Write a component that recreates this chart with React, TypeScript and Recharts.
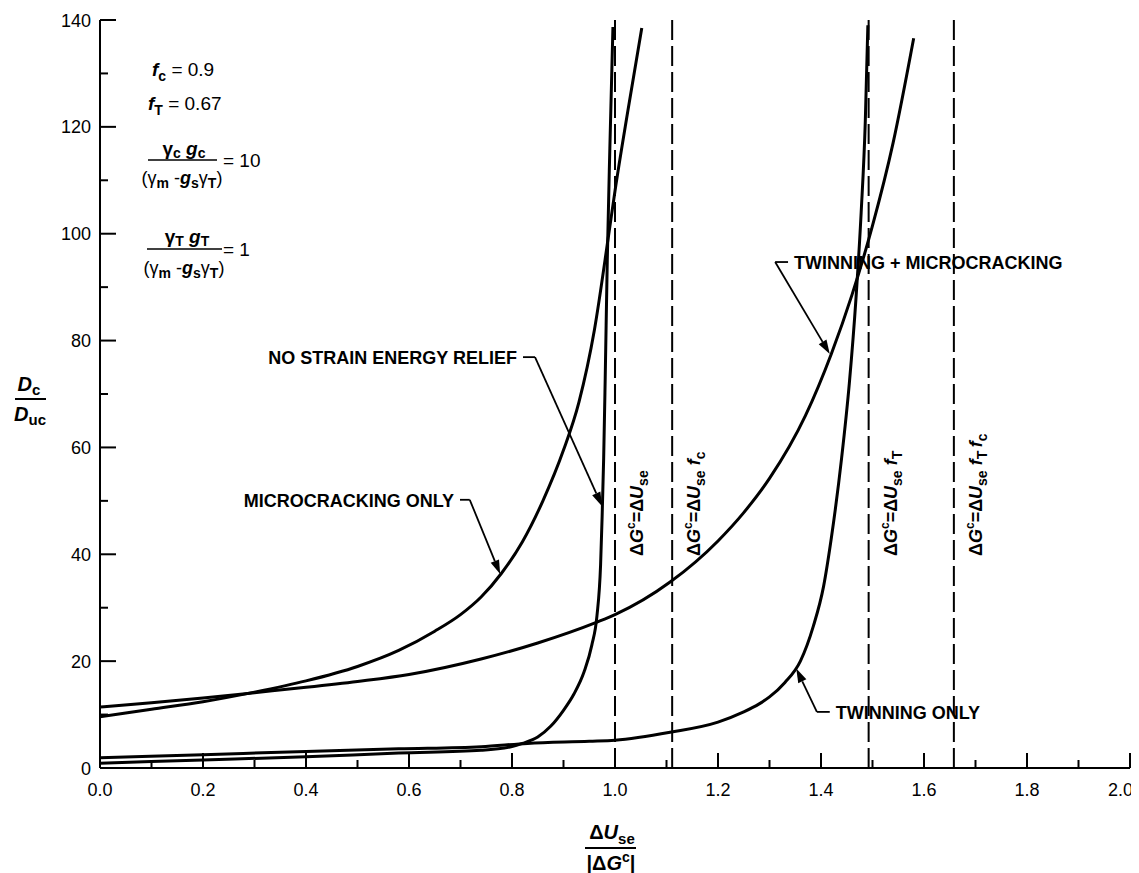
import React from "react";
import { ComposedChart, Line, XAxis, YAxis, ReferenceLine } from "recharts";

const FONT = "'Liberation Sans', Arial, Helvetica, sans-serif";

// ---- series data (x = ΔUse/|ΔGc|, y = Dc/Duc) ----
const microOnlyX = [0, 0.1, 0.2, 0.3, 0.4, 0.5, 0.58, 0.65, 0.7, 0.74, 0.78, 0.82, 0.86, 0.9, 0.93, 0.96, 0.988, 1.0, 1.025, 1.052];
const microOnlyY = [9.6, 11, 12.4, 14.2, 16.3, 19, 22, 25.6, 28.7, 32, 36.5, 42.3, 50, 59.5, 68.5, 82, 100, 108, 123, 138.5];

const twinMicroX = [0, 0.1, 0.2, 0.3, 0.4, 0.5, 0.6, 0.74, 0.85, 0.965, 1.0, 1.107, 1.2, 1.25, 1.3, 1.37, 1.42, 1.46, 1.5, 1.54, 1.58];
const twinMicroY = [11.4, 12.2, 13.1, 14.1, 15.1, 16.2, 17.5, 20.4, 23.4, 27.3, 28.7, 34.8, 42.5, 47.8, 54.2, 66, 77.5, 88.5, 101.5, 117, 136.6];

const twinOnlyX = [0, 0.2, 0.4, 0.58, 0.74, 0.83, 0.95, 1.0, 1.107, 1.2, 1.25, 1.28, 1.3, 1.33, 1.36, 1.385, 1.405, 1.42, 1.44, 1.455, 1.468, 1.478, 1.486, 1.491];
const twinOnlyY = [1.9, 2.5, 3.1, 3.6, 4.0, 4.6, 5.0, 5.2, 6.7, 8.6, 10.5, 12, 13.3, 16, 20, 26.5, 34, 43, 58, 72, 88, 104, 121, 139];

const noReliefX = [0, 0.2, 0.4, 0.58, 0.74, 0.8, 0.82, 0.85, 0.875, 0.9, 0.92, 0.94, 0.955, 0.965, 0.972, 0.975, 0.978, 0.981, 0.985, 0.99, 0.996];
const noReliefY = [0.9, 1.5, 2.1, 2.8, 3.3, 4.0, 4.6, 5.8, 7.8, 10.8, 13.8, 18, 23, 28.5, 38, 47, 58, 73, 95, 116, 138.7];

// ---- axes ----
const xTickValues = [0, 0.1, 0.2, 0.3, 0.4, 0.5, 0.6, 0.7, 0.8, 0.9, 1.0, 1.1, 1.2, 1.3, 1.4, 1.5, 1.6, 1.7, 1.8, 1.9, 2.0];
const xTickLabels = ["0.0", "", "0.2", "", "0.4", "", "0.6", "", "0.8", "", "1.0", "", "1.2", "", "1.4", "", "1.6", "", "1.8", "", "2.0"];
const yTickValues = [0, 10, 20, 30, 40, 50, 60, 70, 80, 90, 100, 110, 120, 130, 140];
const yTickLabels = ["0", "", "20", "", "40", "", "60", "", "80", "", "100", "", "120", "", "140"];

// ---- threshold lines ----
const thresholdX = [1.0, 1.111, 1.4925, 1.658];
const thresholdSubs = [[], ["c"], ["T"], ["T", "c"]];

// ---- leader annotations ----
const leaderTexts = ["NO STRAIN ENERGY RELIEF", "MICROCRACKING ONLY", "TWINNING + MICROCRACKING", "TWINNING ONLY"];
const leaderAnchor = ["end", "end", "start", "start"];
const leaderY = [76.9, 50.2, 94.7, 10.5];
const leaderStartX = [0.8214, 0.699, 1.336, 1.417];
const leaderBendX = [0.8447, 0.718, 1.311, 1.392];
const leaderTipX = [0.9748, 0.777, 1.417, 1.352];
const leaderTipY = [49, 36.3, 77.5, 18.6];

const toPts = (xs: number[], ys: number[]) => xs.map((x, i) => ({ x, y: ys[i] }));
const microOnly = toPts(microOnlyX, microOnlyY);
const twinMicro = toPts(twinMicroX, twinMicroY);
const twinOnly = toPts(twinOnlyX, twinOnlyY);
const noRelief = toPts(noReliefX, noReliefY);

const isMajor = (i: number) => i % 2 === 0;

const BottomTick = (p: any) => {
  const { x, y, payload } = p;
  const i = xTickValues.findIndex((v) => Math.abs(v - payload.value) < 1e-6);
  const major = isMajor(i);
  const last = i === xTickValues.length - 1;
  return (
    <g>
      <line x1={x} y1={y} x2={x} y2={y - (major ? 15 : 8)} stroke="#000" strokeWidth={2} />
      {major && (
        <text
          x={last ? x + 3 : x}
          y={y + 28}
          textAnchor={last ? "end" : "middle"}
          fontFamily={FONT}
          fontSize={18}
          fill="#000"
        >
          {xTickLabels[i]}
        </text>
      )}
    </g>
  );
};

const TopTick = (p: any) => {
  const { x, y, payload } = p;
  const i = xTickValues.findIndex((v) => Math.abs(v - payload.value) < 1e-6);
  const major = isMajor(i);
  return <line x1={x} y1={y} x2={x} y2={y + (major ? 16 : 9)} stroke="#000" strokeWidth={2} />;
};

const LeftTick = (p: any) => {
  const { x, y, payload } = p;
  const i = yTickValues.findIndex((v) => Math.abs(v - payload.value) < 1e-6);
  const major = isMajor(i);
  return (
    <g>
      <line x1={x} y1={y} x2={x + (major ? 16 : 8)} y2={y} stroke="#000" strokeWidth={2} />
      {major && (
        <text x={x - 9} y={y + 6.5} textAnchor="end" fontFamily={FONT} fontSize={18} fill="#000">
          {yTickLabels[i]}
        </text>
      )}
    </g>
  );
};

const RightTick = (p: any) => {
  const { x, y, payload } = p;
  const i = yTickValues.findIndex((v) => Math.abs(v - payload.value) < 1e-6);
  const major = isMajor(i);
  return <line x1={x} y1={y} x2={x - (major ? 16 : 8)} y2={y} stroke="#000" strokeWidth={2} />;
};

const ThresholdShape = (subs: string[]) => (p: any) => {
  const { x1, y1, x2, y2 } = p;
  const bottom = Math.max(y1, y2);
  const top = Math.min(y1, y2);
  const bx = x1 + 28;
  const by = bottom - 212;
  return (
    <g>
      <line x1={x1} y1={top} x2={x2} y2={bottom} stroke="#000" strokeWidth={2} strokeDasharray="20 6" />
      <text
        x={bx}
        y={by}
        transform={`rotate(-90 ${bx} ${by})`}
        fontFamily={FONT}
        fontSize={18}
        fontWeight="bold"
        fill="#000"
      >
        <tspan>Δ</tspan>
        <tspan fontStyle="italic">G</tspan>
        <tspan fontSize={12} dy={-8}>c</tspan>
        <tspan dy={8}>=Δ</tspan>
        <tspan fontStyle="italic">U</tspan>
        <tspan fontSize={14} dy={5}>se</tspan>
        {subs.map((s, k) => (
          <React.Fragment key={k}>
            <tspan dy={-5} fontStyle="italic">{k === 0 ? " f" : "\u2009f"}</tspan>
            <tspan fontSize={14} dy={5}>{s}</tspan>
          </React.Fragment>
        ))}
      </text>
    </g>
  );
};

const LeaderDash = (text: string, anchor: string) => (p: any) => {
  const { x1, y1, x2, y2 } = p;
  return (
    <g>
      <line x1={x1} y1={y1} x2={x2} y2={y2} stroke="#000" strokeWidth={1.8} />
      <text
        x={anchor === "end" ? x1 - 6 : x1 + 6}
        y={y1 + 7}
        textAnchor={anchor}
        fontFamily={FONT}
        fontSize={18}
        fontWeight="bold"
        fill="#000"
      >
        {text}
      </text>
    </g>
  );
};

const LeaderArrow = (p: any) => {
  const { x1, y1, x2, y2 } = p;
  const dx = x2 - x1;
  const dy = y2 - y1;
  const len = Math.sqrt(dx * dx + dy * dy) || 1;
  const ux = dx / len;
  const uy = dy / len;
  const bx = x2 - ux * 14;
  const by = y2 - uy * 14;
  const pts = `${x2},${y2} ${bx - uy * 4.5},${by + ux * 4.5} ${bx + uy * 4.5},${by - ux * 4.5}`;
  return (
    <g>
      <line x1={x1} y1={y1} x2={bx} y2={by} stroke="#000" strokeWidth={1.8} />
      <polygon points={pts} fill="#000" />
    </g>
  );
};

const W = 1131;
const H = 865;

export default function App() {
  const ax = { xAxisId: "b", yAxisId: "l" } as const;
  return (
    <div style={{ position: "relative", width: W, height: H, background: "#fff" }}>
      <ComposedChart width={W} height={H} margin={{ top: 12, right: 9, bottom: 0, left: 0 }}>
        <XAxis
          xAxisId="b"
          dataKey="x"
          type="number"
          domain={[0, 2]}
          ticks={xTickValues}
          interval={0}
          allowDataOverflow
          orientation="bottom"
          height={105}
          tickSize={0}
          tickMargin={0}
          tickLine={false}
          axisLine={{ stroke: "#000", strokeWidth: 2 }}
          tick={<BottomTick />}
        />
        <XAxis
          xAxisId="t"
          dataKey="x"
          type="number"
          domain={[0, 2]}
          ticks={xTickValues}
          interval={0}
          allowDataOverflow
          orientation="top"
          height={0}
          tickSize={0}
          tickMargin={0}
          tickLine={false}
          axisLine={{ stroke: "#000", strokeWidth: 2 }}
          tick={<TopTick />}
        />
        <YAxis
          yAxisId="l"
          type="number"
          domain={[0, 140]}
          ticks={yTickValues}
          interval={0}
          allowDataOverflow
          orientation="left"
          width={92}
          tickSize={0}
          tickMargin={0}
          tickLine={false}
          axisLine={{ stroke: "#000", strokeWidth: 2 }}
          tick={<LeftTick />}
        />
        <YAxis
          yAxisId="r"
          type="number"
          domain={[0, 140]}
          ticks={yTickValues}
          interval={0}
          allowDataOverflow
          orientation="right"
          width={0}
          tickSize={0}
          tickMargin={0}
          tickLine={false}
          axisLine={{ stroke: "#000", strokeWidth: 2 }}
          tick={<RightTick />}
        />

        {thresholdX.map((tx, i) => (
          <ReferenceLine key={`th${i}`} {...ax} x={tx} shape={ThresholdShape(thresholdSubs[i])} />
        ))}

        <Line {...ax} data={noRelief} dataKey="y" type="monotone" stroke="#000" strokeWidth={3} dot={false} isAnimationActive={false} />
        <Line {...ax} data={twinOnly} dataKey="y" type="monotone" stroke="#000" strokeWidth={3} dot={false} isAnimationActive={false} />
        <Line {...ax} data={microOnly} dataKey="y" type="monotone" stroke="#000" strokeWidth={3} dot={false} isAnimationActive={false} />
        <Line {...ax} data={twinMicro} dataKey="y" type="monotone" stroke="#000" strokeWidth={3} dot={false} isAnimationActive={false} />

        {leaderTexts.map((t, i) => (
          <ReferenceLine
            key={`ld${i}`}
            {...ax}
            segment={[
              { x: leaderStartX[i], y: leaderY[i] },
              { x: leaderBendX[i], y: leaderY[i] },
            ]}
            shape={LeaderDash(t, leaderAnchor[i])}
          />
        ))}
        {leaderTexts.map((t, i) => (
          <ReferenceLine
            key={`la${i}`}
            {...ax}
            segment={[
              { x: leaderBendX[i], y: leaderY[i] },
              { x: leaderTipX[i], y: leaderTipY[i] },
            ]}
            shape={LeaderArrow}
          />
        ))}
      </ComposedChart>

      <svg
        width={W}
        height={H}
        style={{ position: "absolute", left: 0, top: 0, pointerEvents: "none" }}
        fontFamily={FONT}
        fill="#000"
      >
        {/* parameter block */}
        <text x={144} y={68} fontSize={19}>
          <tspan fontStyle="italic" fontWeight="bold">f</tspan>
          <tspan fontSize={14} fontWeight="bold" dy={5}>c</tspan>
          <tspan dy={-5}> = 0.9</tspan>
        </text>
        <text x={140} y={102} fontSize={19}>
          <tspan fontStyle="italic" fontWeight="bold">f</tspan>
          <tspan fontSize={14} fontWeight="bold" dy={5}>T</tspan>
          <tspan dy={-5}> = 0.67</tspan>
        </text>

        <text x={176} y={147} fontSize={19} textAnchor="middle" fontWeight="bold">
          <tspan>γ</tspan>
          <tspan fontSize={14} dy={3}>c</tspan>
          <tspan dy={-3} fontStyle="italic"> g</tspan>
          <tspan fontSize={14} dy={3}>c</tspan>
        </text>
        <line x1={140} y1={152} x2={209} y2={152} stroke="#000" strokeWidth={1.6} />
        <text x={215} y={159} fontSize={19}>= 10</text>
        <text x={174} y={176} fontSize={18} textAnchor="middle">
          <tspan>(γ</tspan>
          <tspan fontSize={14} dy={4} fontWeight="bold">m</tspan>
          <tspan dy={-4}> -</tspan>
          <tspan fontStyle="italic" fontWeight="bold">g</tspan>
          <tspan fontSize={14} dy={4} fontWeight="bold">s</tspan>
          <tspan dy={-4}>γ</tspan>
          <tspan fontSize={14} dy={4} fontWeight="bold">T</tspan>
          <tspan dy={-4}>)</tspan>
        </text>

        <text x={179} y={235} fontSize={19} textAnchor="middle" fontWeight="bold">
          <tspan>γ</tspan>
          <tspan fontSize={14} dy={3}>T</tspan>
          <tspan dy={-3} fontStyle="italic"> g</tspan>
          <tspan fontSize={14} dy={3}>T</tspan>
        </text>
        <line x1={139} y1={241} x2={214} y2={241} stroke="#000" strokeWidth={1.6} />
        <text x={215} y={248} fontSize={19}>= 1</text>
        <text x={176} y={266} fontSize={18} textAnchor="middle">
          <tspan>(γ</tspan>
          <tspan fontSize={14} dy={4} fontWeight="bold">m</tspan>
          <tspan dy={-4}> -</tspan>
          <tspan fontStyle="italic" fontWeight="bold">g</tspan>
          <tspan fontSize={14} dy={4} fontWeight="bold">s</tspan>
          <tspan dy={-4}>γ</tspan>
          <tspan fontSize={14} dy={4} fontWeight="bold">T</tspan>
          <tspan dy={-4}>)</tspan>
        </text>

        {/* y-axis title */}
        <text x={21} y={383} fontSize={20} fontWeight="bold" textAnchor="middle">
          <tspan fontStyle="italic">D</tspan>
          <tspan fontSize={15} dy={4}>c</tspan>
        </text>
        <line x1={7} y1={391} x2={38} y2={391} stroke="#000" strokeWidth={2} />
        <text x={22} y={413} fontSize={20} fontWeight="bold" textAnchor="middle">
          <tspan fontStyle="italic">D</tspan>
          <tspan fontSize={15} dy={4}>uc</tspan>
        </text>

        {/* x-axis title */}
        <text x={604} y={831} fontSize={20} fontWeight="bold" textAnchor="middle">
          <tspan>Δ</tspan>
          <tspan fontStyle="italic">U</tspan>
          <tspan fontSize={15} dy={5}>se</tspan>
        </text>
        <line x1={577} y1={840} x2={628} y2={840} stroke="#000" strokeWidth={2} />
        <text x={603} y={862} fontSize={20} fontWeight="bold" textAnchor="middle">
          <tspan>|Δ</tspan>
          <tspan fontStyle="italic">G</tspan>
          <tspan fontSize={14} dy={-8}>c</tspan>
          <tspan dy={8}>|</tspan>
        </text>
      </svg>
    </div>
  );
}
